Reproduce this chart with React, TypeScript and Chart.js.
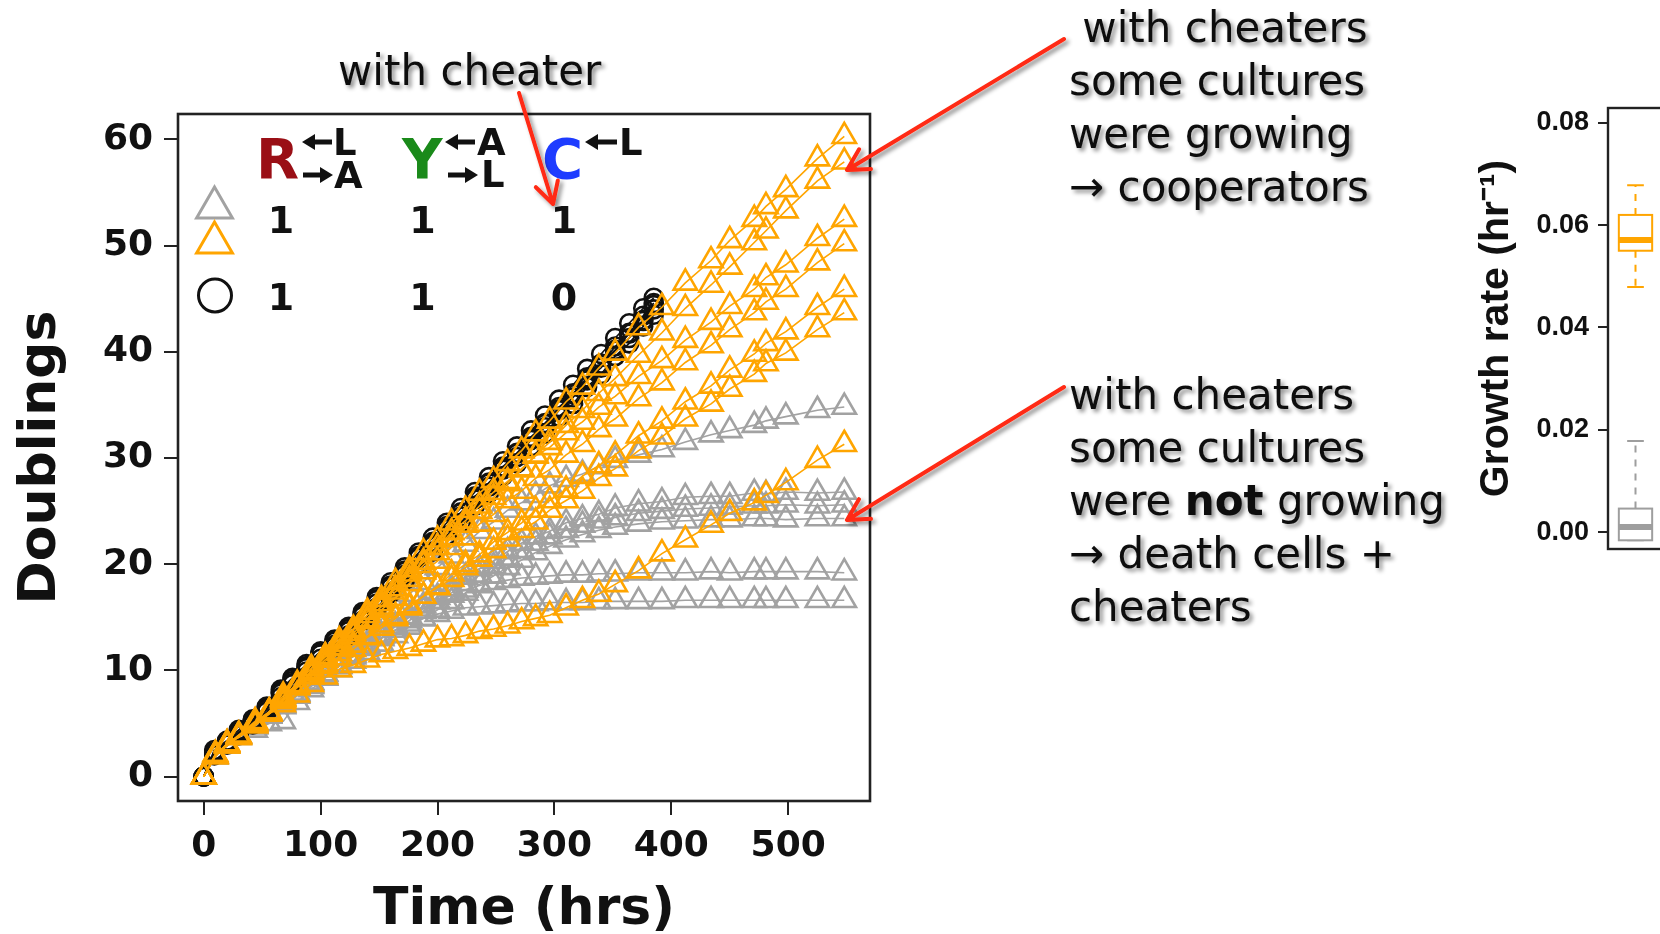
import React, { useEffect, useRef } from "react";
import { Chart, registerables } from "chart.js";
Chart.register(...registerables);

// ---------------- data ----------------
const timeCheater = [0, 10, 20, 30, 44, 56, 68, 80, 92, 104, 116, 128, 140, 152, 164, 176, 188, 200, 212, 224, 236, 248, 260, 272, 284, 296, 310, 324, 338, 352, 372, 392, 412, 434, 450, 471, 481, 498, 525, 548];
const timeNoCheater = [0, 9, 20, 30, 42, 54, 66, 76, 88, 100, 112, 124, 136, 148, 160, 172, 184, 196, 208, 220, 232, 244, 256, 268, 280, 292, 304, 316, 328, 340, 352, 364, 376, 385];

// with cheater, cooperators took over (orange)
const orange1 = [0, 2.1, 3.0, 3.9, 5.2, 6.1, 7.6, 8.7, 10.2, 11.3, 12.8, 13.9, 15.5, 16.7, 18.3, 19.5, 21.1, 22.3, 23.9, 25.1, 26.7, 27.9, 29.5, 30.7, 32.3, 33.5, 35.3, 36.7, 38.5, 39.9, 42.3, 44.2, 46.5, 48.6, 50.5, 52.5, 53.7, 55.3, 58.2, 60.3];
const orange2 = [0, 1.9, 3.1, 3.8, 5.0, 6.0, 7.4, 8.5, 9.8, 11.0, 12.2, 13.5, 14.8, 16.0, 17.4, 18.6, 19.9, 21.1, 22.5, 23.7, 25.0, 26.3, 27.6, 28.9, 30.3, 31.5, 33.1, 34.5, 36.1, 37.5, 39.7, 41.8, 44.1, 46.3, 48.0, 50.3, 51.4, 53.3, 56.1, 57.9];
const orange3 = [0, 2.0, 2.9, 3.8, 5.1, 6.0, 7.3, 8.6, 9.9, 11.3, 12.5, 13.8, 15.2, 16.3, 17.7, 19.1, 20.2, 21.6, 23.0, 24.1, 25.5, 26.8, 27.8, 29.0, 30.2, 31.0, 32.4, 33.4, 34.8, 35.8, 37.7, 39.2, 41.1, 42.8, 44.3, 45.9, 47.0, 48.2, 50.7, 52.5];
const orange4 = [0, 1.9, 3.1, 3.7, 4.9, 6.1, 7.2, 8.4, 9.7, 11.0, 12.1, 13.2, 14.6, 15.7, 16.8, 18.2, 19.3, 20.3, 21.6, 22.5, 23.8, 24.7, 26.0, 26.9, 28.1, 28.9, 30.3, 31.3, 32.7, 33.7, 35.6, 37.1, 39.0, 40.6, 42.1, 43.7, 44.7, 45.9, 48.4, 50.2];
const orange5 = [0, 2.0, 3.0, 3.9, 5.0, 5.9, 7.3, 8.4, 9.4, 10.4, 11.2, 12.0, 13.1, 14.0, 14.9, 16.1, 17.0, 17.9, 19.1, 20.0, 20.9, 22.1, 23.0, 23.9, 25.1, 26.0, 27.0, 28.3, 29.3, 30.3, 32.1, 33.5, 35.3, 36.8, 38.3, 39.8, 40.8, 41.9, 44.2, 45.9];
const orange6 = [0, 2.1, 2.9, 3.8, 4.9, 6.0, 7.1, 8.5, 9.5, 10.6, 11.6, 12.4, 13.2, 14.3, 15.1, 15.9, 17.0, 17.8, 18.6, 19.7, 20.5, 21.3, 22.4, 23.2, 24.0, 25.1, 26.0, 26.9, 28.1, 29.0, 30.7, 32.0, 33.7, 35.1, 36.5, 37.9, 38.9, 39.9, 42.1, 43.7];
const orange7 = [0, 2.0, 3.1, 3.7, 4.8, 5.9, 6.8, 7.7, 8.7, 9.4, 10.1, 10.5, 11.0, 11.5, 11.8, 12.1, 12.5, 12.9, 13.0, 13.3, 13.7, 13.9, 14.2, 14.6, 14.9, 15.2, 15.9, 16.6, 17.2, 18.1, 19.4, 21.0, 22.3, 23.7, 24.8, 25.8, 26.5, 27.7, 29.8, 31.3];

// with cheater, cultures stopped growing (gray)
const gray1 = [0, 1.9, 3.0, 3.9, 4.8, 5.7, 6.9, 7.9, 8.9, 10.1, 11.2, 12.3, 13.7, 14.8, 15.9, 17.2, 18.3, 19.7, 20.8, 21.9, 23.1, 24.0, 25.1, 25.8, 26.5, 27.4, 28.0, 28.5, 29.2, 29.8, 30.3, 30.8, 31.5, 32.2, 32.6, 33.1, 33.5, 33.9, 34.5, 34.8];
const gray2 = [0, 2.0, 2.9, 3.8, 4.9, 5.8, 6.7, 7.8, 8.9, 9.7, 10.5, 11.5, 12.5, 13.3, 14.1, 15.1, 16.1, 16.9, 17.7, 18.8, 19.6, 20.3, 21.2, 22.0, 22.6, 23.1, 23.9, 24.3, 24.7, 25.3, 25.7, 25.9, 26.3, 26.4, 26.4, 26.7, 26.6, 26.8, 26.7, 26.8];
const gray3 = [0, 1.9, 3.0, 3.8, 4.7, 5.7, 6.7, 7.7, 8.6, 9.5, 10.4, 11.3, 12.1, 13.0, 13.8, 14.7, 15.6, 16.5, 17.3, 18.2, 19.0, 19.8, 20.6, 21.3, 22.0, 22.6, 23.2, 23.7, 24.1, 24.4, 24.8, 25.0, 25.2, 25.3, 25.4, 25.5, 25.5, 25.6, 25.5, 25.6];
const gray4 = [0, 2.0, 3.0, 3.7, 4.8, 5.7, 6.6, 7.6, 8.5, 9.3, 10.1, 10.9, 11.7, 12.5, 13.3, 14.1, 14.9, 15.7, 16.5, 17.3, 18.1, 18.9, 19.7, 20.4, 21.1, 21.7, 22.3, 22.8, 23.2, 23.5, 23.8, 24.0, 24.1, 24.2, 24.2, 24.3, 24.3, 24.2, 24.3, 24.3];
const gray5 = [0, 2.0, 3.0, 3.8, 4.8, 5.8, 6.8, 7.8, 8.8, 9.7, 10.6, 11.5, 12.4, 13.3, 14.2, 15.0, 15.8, 16.5, 17.1, 17.6, 18.0, 18.3, 18.5, 18.7, 18.8, 18.9, 19.0, 19.0, 19.1, 19.1, 19.2, 19.2, 19.2, 19.3, 19.2, 19.3, 19.3, 19.3, 19.3, 19.2];
const gray6 = [0, 2.0, 3.0, 3.8, 4.4, 5.0, 5.2, 7.0, 8.2, 9.3, 10.4, 11.4, 12.3, 13.1, 13.8, 14.4, 14.9, 15.3, 15.6, 15.9, 16.0, 16.1, 16.2, 16.3, 16.3, 16.4, 16.4, 16.4, 16.5, 16.5, 16.5, 16.5, 16.6, 16.6, 16.6, 16.6, 16.6, 16.6, 16.6, 16.6];

// without cheater (black circles)
const black1 = [0, 2.3, 3.3, 4.2, 5.3, 6.6, 8.2, 9.3, 10.6, 11.8, 12.9, 14.1, 15.5, 16.9, 18.3, 19.7, 21.1, 22.5, 23.9, 25.3, 26.8, 28.2, 29.7, 31.1, 32.6, 34.0, 35.5, 36.9, 38.4, 39.8, 41.3, 42.7, 44.1, 45.1];
const black2 = [0, 2.1, 3.2, 4.0, 5.2, 6.3, 7.8, 8.8, 10.2, 11.5, 12.4, 13.7, 15.1, 16.3, 17.8, 19.0, 20.6, 21.8, 23.3, 24.5, 26.1, 27.3, 28.9, 30.1, 31.7, 32.9, 34.5, 35.7, 37.3, 38.5, 40.1, 41.3, 42.9, 44.0];
const black3 = [0, 2.5, 3.4, 4.4, 5.4, 6.5, 8.0, 9.2, 10.4, 11.6, 12.8, 14.0, 15.3, 16.7, 17.9, 19.4, 20.7, 22.1, 23.4, 24.9, 26.2, 27.7, 29.0, 30.5, 31.8, 33.3, 34.6, 36.1, 37.4, 38.9, 40.2, 41.7, 43.0, 44.4];
const black4 = [0, 2.0, 3.0, 3.9, 4.9, 6.1, 7.5, 8.7, 9.9, 11.1, 12.2, 13.3, 14.7, 15.9, 17.3, 18.5, 20.0, 21.2, 22.7, 23.9, 25.5, 26.7, 28.3, 29.5, 31.1, 32.3, 33.9, 35.1, 36.7, 37.9, 39.6, 40.8, 42.4, 43.5];
const black5 = [0, 2.2, 3.1, 4.1, 5.0, 6.4, 7.9, 9.0, 10.3, 11.7, 12.7, 13.9, 15.2, 16.6, 18.0, 19.3, 20.8, 22.0, 23.6, 24.8, 26.4, 27.6, 29.2, 30.4, 32.0, 33.2, 34.8, 36.0, 37.6, 38.8, 40.5, 41.8, 43.4, 44.6];

const xTickValues = [0, 100, 200, 300, 400, 500];
const yTickValues = [0, 10, 20, 30, 40, 50, 60];

// growth-rate box plot: [lower whisker, q1, median, q3, upper whisker]
const rateTickValues = [0, 0.02, 0.04, 0.06, 0.08];
const rateOrange = [0.0479, 0.055, 0.0571, 0.062, 0.0678];
const rateGray = [-0.0016, -0.0016, 0.001, 0.0046, 0.0178];
const ratePosition = 1;

// ---------------- styles ----------------
const ORANGE = "#ffa500";
const GRAY = "#a2a2a2";
const BLACK = "#111111";
const NUM_FONT = "DejaVu Sans";

function series(t: number[], v: number[], color: string, style: string, radius: number) {
  return {
    data: v.map((y, i) => ({ x: t[i], y })),
    showLine: true,
    borderColor: color,
    borderWidth: 1.6,
    pointStyle: style,
    pointRadius: radius,
    pointHoverRadius: radius,
    pointBorderWidth: 2.6,
    pointBorderColor: color,
    pointBackgroundColor: "rgba(0,0,0,0)",
    fill: false,
    tension: 0,
  };
}

const framePlugin = {
  id: "frame",
  afterDatasetsDraw(chart: any) {
    const { ctx, chartArea: a } = chart;
    ctx.save();
    ctx.strokeStyle = "#222";
    ctx.lineWidth = 2.6;
    ctx.strokeRect(a.left, a.top, a.right - a.left, a.bottom - a.top);
    ctx.restore();
  },
};

const legendPlugin = {
  id: "cultureLegend",
  afterDraw(chart: any) {
    const { ctx, chartArea: a } = chart;
    const L = a.left;
    const T = a.top;
    ctx.save();
    ctx.textBaseline = "alphabetic";
    const txt = (s: string, size: number, color: string, x: number, y: number, align: CanvasTextAlign = "left") => {
      ctx.font = `bold ${size}px "${NUM_FONT}"`;
      ctx.fillStyle = color;
      ctx.textAlign = align;
      ctx.fillText(s, x, y);
    };
    // thick arrow with filled head; dir = -1 points left, +1 points right
    const arr = (xl: number, xr: number, y: number, dir: number) => {
      const head = 13;
      ctx.fillStyle = BLACK;
      ctx.strokeStyle = BLACK;
      ctx.lineWidth = 5;
      ctx.beginPath();
      if (dir < 0) {
        ctx.moveTo(xr, y);
        ctx.lineTo(xl + head - 2, y);
      } else {
        ctx.moveTo(xl, y);
        ctx.lineTo(xr - head + 2, y);
      }
      ctx.stroke();
      ctx.beginPath();
      if (dir < 0) {
        ctx.moveTo(xl, y);
        ctx.lineTo(xl + head, y - 8);
        ctx.lineTo(xl + head, y + 8);
      } else {
        ctx.moveTo(xr, y);
        ctx.lineTo(xr - head, y - 8);
        ctx.lineTo(xr - head, y + 8);
      }
      ctx.closePath();
      ctx.fill();
    };
    // header
    txt("R", 56, "#9a0f16", L + 78, T + 64);
    arr(L + 124, L + 154, T + 28, -1);
    txt("L", 37, BLACK, L + 155, T + 41);
    arr(L + 125, L + 155, T + 61, 1);
    txt("A", 37, BLACK, L + 156, T + 74);
    txt("Y", 56, "#1a8a1a", L + 224, T + 64);
    arr(L + 267, L + 297, T + 28, -1);
    txt("A", 37, BLACK, L + 299, T + 41);
    arr(L + 270, L + 300, T + 61, 1);
    txt("L", 37, BLACK, L + 303, T + 73);
    txt("C", 56, "#1e3cff", L + 364, T + 64);
    arr(L + 407, L + 439, T + 28, -1);
    txt("L", 37, BLACK, L + 441, T + 41);

    // markers
    const tri = (cx: number, top: number, bottom: number, color: string) => {
      const h = bottom - top;
      const half = h / Math.sqrt(3);
      ctx.beginPath();
      ctx.moveTo(cx, top);
      ctx.lineTo(cx + half, bottom);
      ctx.lineTo(cx - half, bottom);
      ctx.closePath();
      ctx.strokeStyle = color;
      ctx.lineWidth = 3;
      ctx.stroke();
    };
    tri(L + 36.5, T + 73, T + 104, GRAY);
    tri(L + 36.5, T + 108, T + 139, ORANGE);
    ctx.beginPath();
    ctx.arc(L + 37, T + 181.5, 16.5, 0, Math.PI * 2);
    ctx.strokeStyle = BLACK;
    ctx.lineWidth = 3;
    ctx.stroke();

    // rows
    txt("1", 38, BLACK, L + 103, T + 119, "center");
    txt("1", 38, BLACK, L + 244.5, T + 119, "center");
    txt("1", 38, BLACK, L + 386, T + 119, "center");
    txt("1", 38, BLACK, L + 103, T + 196, "center");
    txt("1", 38, BLACK, L + 244.5, T + 196, "center");
    txt("0", 38, BLACK, L + 386, T + 196, "center");
    ctx.restore();
  },
};

const boxPlugin = {
  id: "rateBoxes",
  afterDraw(chart: any) {
    const { ctx, chartArea: a, scales } = chart;
    const xs = scales.x;
    const ys = scales.y;
    ctx.save();
    ctx.strokeStyle = "#222";
    ctx.lineWidth = 2.4;
    ctx.strokeRect(a.left, a.top, a.right - a.left, a.bottom - a.top);
    const boxes = [
      { stats: rateGray, color: "#9e9e9e" },
      { stats: rateOrange, color: ORANGE },
    ];
    boxes.forEach((b) => {
      const cx = xs.getPixelForValue(ratePosition);
      const hw = xs.getPixelForValue(ratePosition + 0.4) - cx;
      const cw = xs.getPixelForValue(ratePosition + 0.2) - cx;
      const [mn, q1, md, q3, mx] = b.stats.map((v) => ys.getPixelForValue(v));
      ctx.strokeStyle = b.color;
      ctx.lineWidth = 2;
      ctx.setLineDash([7, 7]);
      ctx.beginPath();
      ctx.moveTo(cx, q3);
      ctx.lineTo(cx, mx);
      ctx.moveTo(cx, q1);
      ctx.lineTo(cx, mn);
      ctx.stroke();
      ctx.setLineDash([]);
      ctx.beginPath();
      ctx.moveTo(cx - cw, mx);
      ctx.lineTo(cx + cw, mx);
      ctx.moveTo(cx - cw, mn);
      ctx.lineTo(cx + cw, mn);
      ctx.stroke();
      ctx.fillStyle = "#fff";
      ctx.fillRect(cx - hw, q3, 2 * hw, q1 - q3);
      ctx.strokeRect(cx - hw, q3, 2 * hw, q1 - q3);
      ctx.lineWidth = 6;
      ctx.beginPath();
      ctx.moveTo(cx - hw, md);
      ctx.lineTo(cx + hw, md);
      ctx.stroke();
    });
    ctx.restore();
  },
};

function arrowPath(x1: number, y1: number, x2: number, y2: number) {
  const ang = Math.atan2(y2 - y1, x2 - x1);
  const len = 24;
  const spread = 0.5;
  const ax = x2 - len * Math.cos(ang - spread);
  const ay = y2 - len * Math.sin(ang - spread);
  const bx = x2 - len * Math.cos(ang + spread);
  const by = y2 - len * Math.sin(ang + spread);
  return `M${x1},${y1} L${x2},${y2} M${ax},${ay} L${x2},${y2} L${bx},${by}`;
}

export default function App() {
  const mainRef = useRef<HTMLCanvasElement>(null);
  const boxRef = useRef<HTMLCanvasElement>(null);

  useEffect(() => {
    const orange = [orange1, orange2, orange3, orange4, orange5, orange6, orange7];
    const black = [black1, black2, black3, black4, black5];
    const gray = [gray1, gray2, gray3, gray4, gray5, gray6];
    const datasets: any[] = [
      ...orange.map((v) => series(timeCheater, v, ORANGE, "triangle", 13.5)),
      ...black.map((v) => series(timeNoCheater, v, BLACK, "circle", 9)),
      ...gray.map((v) => series(timeCheater, v, GRAY, "triangle", 13.5)),
    ];

    const tickFont = { family: NUM_FONT, weight: "bold" as const, size: 36 };
    const titleFont = { family: NUM_FONT, weight: "bold" as const, size: 52, lineHeight: 0.9 };

    const main = new Chart(mainRef.current as HTMLCanvasElement, {
      type: "scatter",
      data: { datasets },
      options: {
        animation: false,
        responsive: false,
        events: [],
        layout: { padding: { top: 114, right: 30, left: 0, bottom: 0 } },
        plugins: { legend: { display: false }, tooltip: { enabled: false } },
        scales: {
          x: {
            type: "linear",
            min: -22,
            max: 570,
            afterBuildTicks: (s: any) => {
              s.ticks = xTickValues.map((v) => ({ value: v }));
            },
            afterFit: (s: any) => {
              s.height = 133;
            },
            grid: { drawOnChartArea: false, drawTicks: true, tickLength: 14, color: "#222", lineWidth: 2 },
            border: { display: false },
            ticks: { font: tickFont, color: BLACK, padding: 10, maxRotation: 0, autoSkip: false },
            title: { display: true, text: "Time (hrs)", font: titleFont, color: BLACK, padding: { top: 0, bottom: 0 } },
          },
          y: {
            type: "linear",
            min: -2.3,
            max: 62.4,
            afterBuildTicks: (s: any) => {
              s.ticks = yTickValues.map((v) => ({ value: v }));
            },
            afterFit: (s: any) => {
              s.width = 178;
            },
            grid: { drawOnChartArea: false, drawTicks: true, tickLength: 14, color: "#222", lineWidth: 2 },
            border: { display: false },
            ticks: { font: tickFont, color: BLACK, padding: 11, autoSkip: false },
            title: { display: true, text: "Doublings", font: { ...titleFont, lineHeight: 1.2 }, color: BLACK, padding: { top: 10, bottom: 0 } },
          },
        },
      },
      plugins: [framePlugin, legendPlugin],
    } as any);

    const box = new Chart(boxRef.current as HTMLCanvasElement, {
      type: "scatter",
      data: { datasets: [] },
      options: {
        animation: false,
        responsive: false,
        events: [],
        layout: { padding: { top: 108, bottom: 51, right: 12, left: 0 } },
        plugins: { legend: { display: false }, tooltip: { enabled: false } },
        scales: {
          x: { type: "linear", display: false, min: 0.34, max: 4.66 },
          y: {
            type: "linear",
            min: -0.0033,
            max: 0.0829,
            afterBuildTicks: (s: any) => {
              s.ticks = rateTickValues.map((v) => ({ value: v }));
            },
            afterFit: (s: any) => {
              s.width = 168;
            },
            grid: { drawOnChartArea: false, drawTicks: true, tickLength: 10, color: "#222", lineWidth: 2 },
            border: { display: false },
            ticks: {
              font: { family: "Liberation Sans", weight: "bold", size: 27 },
              color: BLACK,
              padding: 9,
              autoSkip: false,
              callback: (v: any) => Number(v).toFixed(2),
            },
            title: {
              display: true,
              text: "Growth rate (hr\u207B\u00B9)",
              font: { family: "Liberation Sans", weight: "bold", size: 41, lineHeight: 1.2 },
              color: BLACK,
              padding: { top: 32, bottom: 0 },
            },
          },
        },
      },
      plugins: [boxPlugin],
    } as any);

    return () => {
      main.destroy();
      box.destroy();
    };
  }, []);

  const textStyle: React.CSSProperties = {
    fontFamily: '"DejaVu Sans"',
    fontSize: 42,
    fill: "#111",
  };
  const block1 = [" with cheaters", "some cultures", "were growing", "\u2192 cooperators"];
  const block1Y = [42, 95, 148, 201];
  const block2Y = [409, 462, 515, 568, 621];

  return (
    <div style={{ position: "absolute", left: 0, top: 0, width: 1660, height: 934, overflow: "hidden", background: "#fff" }}>
      <canvas ref={mainRef} width={900} height={934} style={{ position: "absolute", left: 0, top: 0 }} />
      <canvas ref={boxRef} width={360} height={600} style={{ position: "absolute", left: 1440, top: 0 }} />
      <svg width={1660} height={934} style={{ position: "absolute", left: 0, top: 0, pointerEvents: "none" }}>
        <defs>
          <filter id="sh" x="-10%" y="-30%" width="130%" height="180%">
            <feDropShadow dx="3" dy="3" stdDeviation="2.2" floodColor="#000" floodOpacity="0.45" />
          </filter>
        </defs>
        <g filter="url(#sh)" style={textStyle}>
          <text x={338} y={85} xmlSpace="preserve">with cheater</text>
          {block1.map((s, i) => (
            <text key={"a" + i} x={1069} y={block1Y[i]} xmlSpace="preserve">{s}</text>
          ))}
          <text x={1069} y={block2Y[0]}>with cheaters</text>
          <text x={1069} y={block2Y[1]}>some cultures</text>
          <text x={1069} y={block2Y[2]} xmlSpace="preserve">
            were <tspan fontWeight="bold">not</tspan> growing
          </text>
          <text x={1069} y={block2Y[3]}>{"\u2192 death cells +"}</text>
          <text x={1069} y={block2Y[4]}>cheaters</text>
        </g>
        <g filter="url(#sh)" stroke="#ff2a12" strokeWidth={4} fill="none" strokeLinecap="round" strokeLinejoin="round">
          <path d={arrowPath(519, 93, 553, 204)} />
          <path d={arrowPath(1064, 39, 847, 170)} />
          <path d={arrowPath(1064, 387, 847, 520)} />
        </g>
      </svg>
    </div>
  );
}
